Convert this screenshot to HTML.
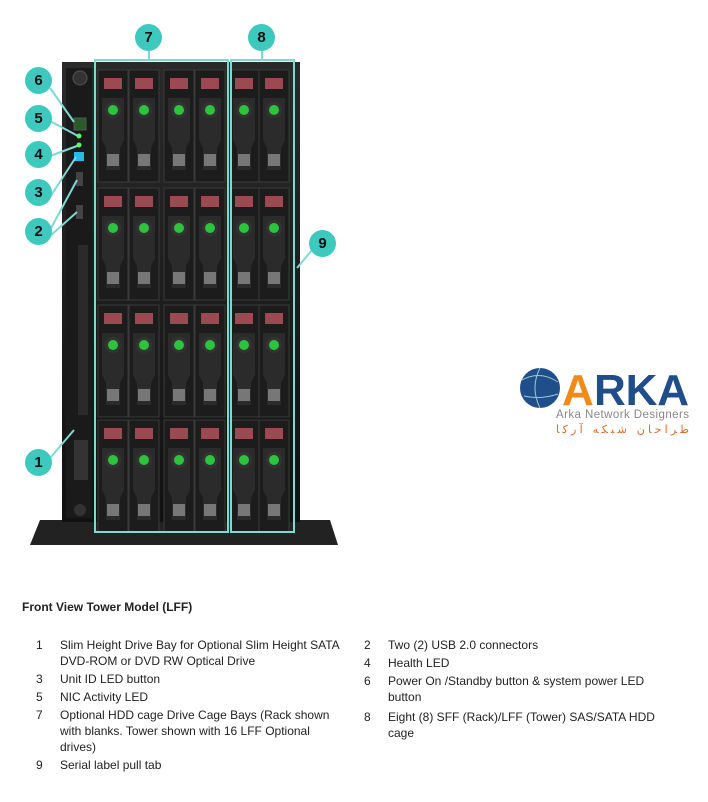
<!DOCTYPE html>
<html><head><style>
body{margin:0;width:708px;height:802px;background:#fff;font-family:"Liberation Sans",sans-serif;position:relative;overflow:hidden}
.a{position:absolute}
.c{position:absolute;width:27px;height:27px;border-radius:50%;background:#3ec9bf;color:#111;font-weight:bold;font-size:15px;text-align:center;line-height:27px}
.t{position:absolute;font-size:12px;color:#222;line-height:16px}
</style></head><body>
<svg class="a" style="left:0;top:0" width="708" height="560">
<defs>
<linearGradient id="g" x1="0" x2="0" y1="0" y2="1"><stop offset="0" stop-color="#2a2a2a"/><stop offset="1" stop-color="#111"/></linearGradient>
<g id="d">
<rect x="0" y="0" width="30" height="112" fill="#1c1c1c" stroke="#3a3a3a"/>
<rect x="6" y="8" width="18" height="11" fill="#9b4a52"/>
<path d="M4 28 H26 V70 L22 78 V100 H8 V78 L4 70Z" fill="#2b2b2b"/>
<circle cx="15" cy="40" r="8" fill="#333"/><circle cx="15" cy="40" r="5" fill="#2cc43c"/>
<rect x="9" y="84" width="12" height="12" fill="#777"/>
</g>
</defs>
<path d="M40 520 H330 L338 545 H30Z" fill="#222"/>
<rect x="62" y="62" width="238" height="460" fill="url(#g)"/>
<rect x="66" y="68" width="26" height="450" fill="#1a1a1a"/>
<circle cx="80" cy="78" r="7" fill="#333" stroke="#555"/>
<rect x="74" y="118" width="12" height="12" fill="#2a5a2a" stroke="#555"/>
<circle cx="79" cy="136" r="2.5" fill="#5f5"/><circle cx="79" cy="145" r="2.5" fill="#5f5"/>
<rect x="74" y="152" width="10" height="9" fill="#2ab8e8"/>
<rect x="76" y="172" width="7" height="14" fill="#444"/><rect x="76" y="205" width="7" height="14" fill="#444"/>
<rect x="78" y="245" width="10" height="170" fill="#2a2a2a"/>
<rect x="74" y="440" width="14" height="40" fill="#333"/>
<circle cx="80" cy="510" r="6" fill="#333"/>
<g>
<use href="#d" x="98" y="70"/><use href="#d" x="129" y="70"/><use href="#d" x="164" y="70"/><use href="#d" x="195" y="70"/><use href="#d" x="229" y="70"/><use href="#d" x="259" y="70"/>
<use href="#d" x="98" y="188"/><use href="#d" x="129" y="188"/><use href="#d" x="164" y="188"/><use href="#d" x="195" y="188"/><use href="#d" x="229" y="188"/><use href="#d" x="259" y="188"/>
<use href="#d" x="98" y="305"/><use href="#d" x="129" y="305"/><use href="#d" x="164" y="305"/><use href="#d" x="195" y="305"/><use href="#d" x="229" y="305"/><use href="#d" x="259" y="305"/>
<use href="#d" x="98" y="420"/><use href="#d" x="129" y="420"/><use href="#d" x="164" y="420"/><use href="#d" x="195" y="420"/><use href="#d" x="229" y="420"/><use href="#d" x="259" y="420"/>
</g>
<g stroke="#7fd8d2" stroke-width="2" fill="none">
<rect x="95" y="60" width="133" height="472"/><rect x="231" y="60" width="63" height="472"/>
<path d="M149 50V60M262 50V60"/>
<path d="M50 88L74 122M50 121L78 136M50 156L77 146M50 197L76 157M50 230L77 180M50 236L77 212M312 250L297 268M50 458L74 430"/>
</g>
<circle cx="540" cy="388" r="20" fill="#1f4e8a"/>
<g stroke="#9cc" stroke-width="1" fill="none"><path d="M522 380Q540 370 558 382M524 396Q540 400 558 394M540 368Q530 388 540 408"/></g>
<text x="562" y="405" font-family="Liberation Sans" font-weight="bold" font-size="44" fill="#f28a1a" textLength="30">A</text>
<text x="594" y="405" font-family="Liberation Sans" font-weight="bold" font-size="44" fill="#1f4e8a" textLength="95">RKA</text>
<text x="556" y="418" font-family="Liberation Sans" font-size="11.5" fill="#888" textLength="133">Arka Network Designers</text>
<text x="556" y="433" font-family="DejaVu Sans" font-size="11" fill="#e06a2a" textLength="133">طراحان شبکه آرکا</text>
</svg>
<div class="c" style="left:135px;top:24px">7</div>
<div class="c" style="left:248px;top:24px">8</div>
<div class="c" style="left:25px;top:67px">6</div>
<div class="c" style="left:25px;top:105px">5</div>
<div class="c" style="left:25px;top:141px">4</div>
<div class="c" style="left:25px;top:179px">3</div>
<div class="c" style="left:25px;top:218px">2</div>
<div class="c" style="left:309px;top:230px">9</div>
<div class="c" style="left:25px;top:449px">1</div>
<div class="t" style="left:22px;top:599px;font-weight:bold">Front View Tower Model (LFF)</div>
<div class="t" style="left:36px;top:637px">1</div><div class="t" style="left:60px;top:637px;width:290px">Slim Height Drive Bay for Optional Slim Height SATA DVD-ROM or DVD RW Optical Drive</div>
<div class="t" style="left:36px;top:671px">3</div><div class="t" style="left:60px;top:671px">Unit ID LED button</div>
<div class="t" style="left:36px;top:689px">5</div><div class="t" style="left:60px;top:689px">NIC Activity LED</div>
<div class="t" style="left:36px;top:707px">7</div><div class="t" style="left:60px;top:707px;width:280px">Optional HDD cage Drive Cage Bays (Rack shown with blanks. Tower shown with 16 LFF Optional drives)</div>
<div class="t" style="left:36px;top:757px">9</div><div class="t" style="left:60px;top:757px">Serial label pull tab</div>
<div class="t" style="left:364px;top:637px">2</div><div class="t" style="left:388px;top:637px">Two (2) USB 2.0 connectors</div>
<div class="t" style="left:364px;top:655px">4</div><div class="t" style="left:388px;top:655px">Health LED</div>
<div class="t" style="left:364px;top:673px">6</div><div class="t" style="left:388px;top:673px;width:280px">Power On /Standby button &amp; system power LED button</div>
<div class="t" style="left:364px;top:709px">8</div><div class="t" style="left:388px;top:709px;width:290px">Eight (8) SFF (Rack)/LFF (Tower) SAS/SATA HDD cage</div>
</body></html>
